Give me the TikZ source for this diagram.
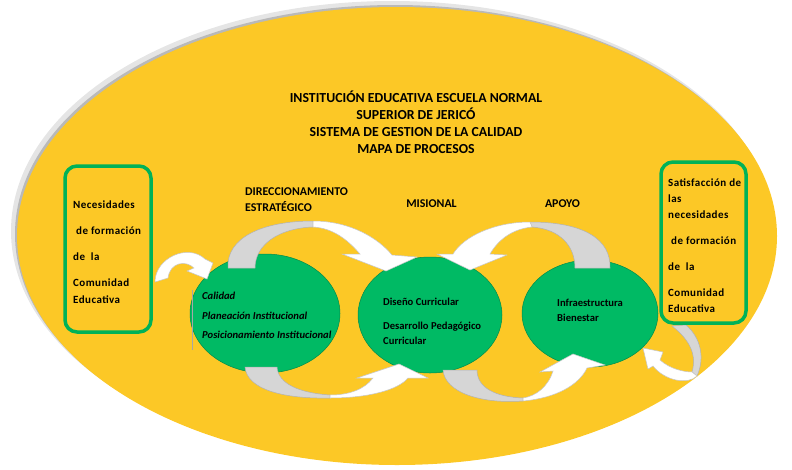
\documentclass[tikz,border=0pt]{standalone}
\usepackage{fontspec}
\setmainfont{Carlito}
\newfontfamily\espaciada[LetterSpace=4]{Carlito}
\usetikzlibrary{shapes.geometric}
\definecolor{amarillo}{RGB}{252,200,38}
\definecolor{verde}{RGB}{0,186,100}
\definecolor{verdecaja}{RGB}{0,178,88}
\definecolor{gris}{RGB}{214,214,214}

\begin{document}
\begin{tikzpicture}[x=1pt,y=-1pt]
\tikzset{proceso/.style={draw=verde!75!black, line width=0.5pt, fill=verde, ellipse, inner sep=0pt},
caja/.style={draw=verdecaja, line width=3.5pt, rounded corners=12pt, fill=amarillo, inner sep=0pt},
textocaja/.style={anchor=north west, align=left, inner sep=0pt},
textoproc/.style={anchor=north west, align=left, inner sep=0pt},
etiqueta/.style={inner sep=0pt, font=\bfseries\fontsize{11.9}{16}\selectfont},
banda/.style={fill=gris, draw=gray!60, line width=0.5pt},
punta/.style={fill=white, draw=gray!45, line width=0.5pt}}
\useasboundingbox (0,0) rectangle (792,469);
\fill[gray!20] (392,231) ellipse [x radius=381pt, y radius=230pt];
\fill[gray!55] (395,234) ellipse [x radius=380pt, y radius=229pt];
\fill[amarillo] (397,236) ellipse [x radius=380pt, y radius=229pt];
\node[proceso, minimum width=150pt, minimum height=119pt] (DE) at (265,313.5) {};
\node[proceso, minimum width=144pt, minimum height=116pt] (MIS) at (430,315) {};
\node[proceso, minimum width=136pt, minimum height=107pt] (APO) at (590,313.5) {};
\draw[banda] (228,268) .. controls (226,238) and (262,221) .. (313,221) -- (313,227) .. controls (280,228) and (255,244) .. (255,268) -- cycle;
\draw[punta] (313,221) .. controls (350,221) and (378,238) .. (392,255) -- (417,257) -- (386,271) -- (342,254) -- (360,254) .. controls (348,240) and (333,228) .. (313,227) -- cycle;
\draw[banda] (610,268) .. controls (611,240) and (585,222) .. (530,222) -- (532,227) .. controls (560,229) and (575,246) .. (575,268) -- cycle;
\draw[punta] (530,222) .. controls (495,222) and (464,236) .. (453,254) -- (437,254) -- (470,270) -- (507,255) -- (490,254) .. controls (498,240) and (512,229) .. (532,227) -- cycle;
\draw[banda] (245,367) .. controls (247,390) and (285,399) .. (330,398) -- (330,395) .. controls (300,393) and (278,384) .. (277,367) -- cycle;
\draw[punta] (330,398) .. controls (368,398) and (398,390) .. (408,378) -- (428,378) -- (399,364) -- (357,378) -- (373,378) .. controls (364,390) and (348,395) .. (330,395) -- cycle;
\draw[banda] (443,370) .. controls (445,393) and (482,404) .. (523,401) -- (523,398) .. controls (496,397) and (477,388) .. (477,370) -- cycle;
\draw[punta] (523,401) .. controls (556,398) and (579,385) .. (587,368) -- (605,365) -- (573,354) -- (540,372) -- (553,371) .. controls (548,387) and (536,396) .. (523,398) -- cycle;
\draw[punta] (155,282) .. controls (155,258) and (188,243) .. (205,259) -- (213,263) -- (207,279) -- (187,271) -- (194,268) .. controls (186,260) and (170,262) .. (168,278) -- cycle;
\draw[banda] (672,326) .. controls (690,340) and (697,355) .. (692,372) -- (697,376) .. controls (705,358) and (701,338) .. (686,325) -- cycle;
\draw[punta] (692,372) -- (697,376) .. controls (688,385) and (665,381) .. (653,366) -- (648,369) -- (643,348) -- (663,352) -- (660,360) .. controls (670,369) and (684,372) .. (692,372) -- cycle;
\node[caja, minimum width=86pt, minimum height=166pt] (NEC) at (108,249) {};
\node[caja, minimum width=85pt, minimum height=161pt] (SAT) at (703.5,242.5) {};
\draw[gray!70, line width=0.5pt] (192,290) -- (192,350);
\node[inner sep=0pt, anchor=north, align=center, font=\bfseries\fontsize{13.8}{17}\selectfont] (titulo) at (416,90.5) {INSTITUCIÓN EDUCATIVA ESCUELA NORMAL\\SUPERIOR DE JERICÓ\\SISTEMA DE GESTION DE LA CALIDAD\\MAPA DE PROCESOS};
\node[etiqueta, anchor=north west, align=left] (direc) at (245,187.5) {DIRECCIONAMIENTO\\ESTRATÉGICO};
\node[etiqueta, anchor=base] (misional) at (431.5,207.7) {MISIONAL};
\node[etiqueta, anchor=base] (apoyo) at (562.5,207.7) {APOYO};
\node[textocaja, font=\espaciada\bfseries\fontsize{11}{17}\selectfont] (tNEC) at (73,200.5) {Necesidades\\[9pt]\hspace*{3pt}de formación\\[9pt]de\ \ la\\[9pt]Comunidad\\Educativa};
\node[textocaja, font=\espaciada\bfseries\fontsize{11}{16}\selectfont] (tSAT) at (668,178.5) {Satisfacción de\\las\\necesidades\\[10pt]\hspace*{3pt}de formación\\[10pt]de\ \ la\\[10pt]Comunidad\\Educativa};
\node[textoproc, font=\bfseries\itshape\fontsize{10.6}{19.5}\selectfont] (tDE) at (202,292) {Calidad\\Planeación Institucional\\Posicionamiento Institucional};
\node[textoproc, font=\bfseries\fontsize{10.6}{15}\selectfont] (tMIS) at (383,297.5) {Diseño Curricular\\[9pt]Desarrollo Pedagógico\\Curricular};
\node[textoproc, font=\bfseries\fontsize{10.6}{15}\selectfont] (tAPO) at (557,299) {Infraestructura\\Bienestar};
\end{tikzpicture}
\end{document}
